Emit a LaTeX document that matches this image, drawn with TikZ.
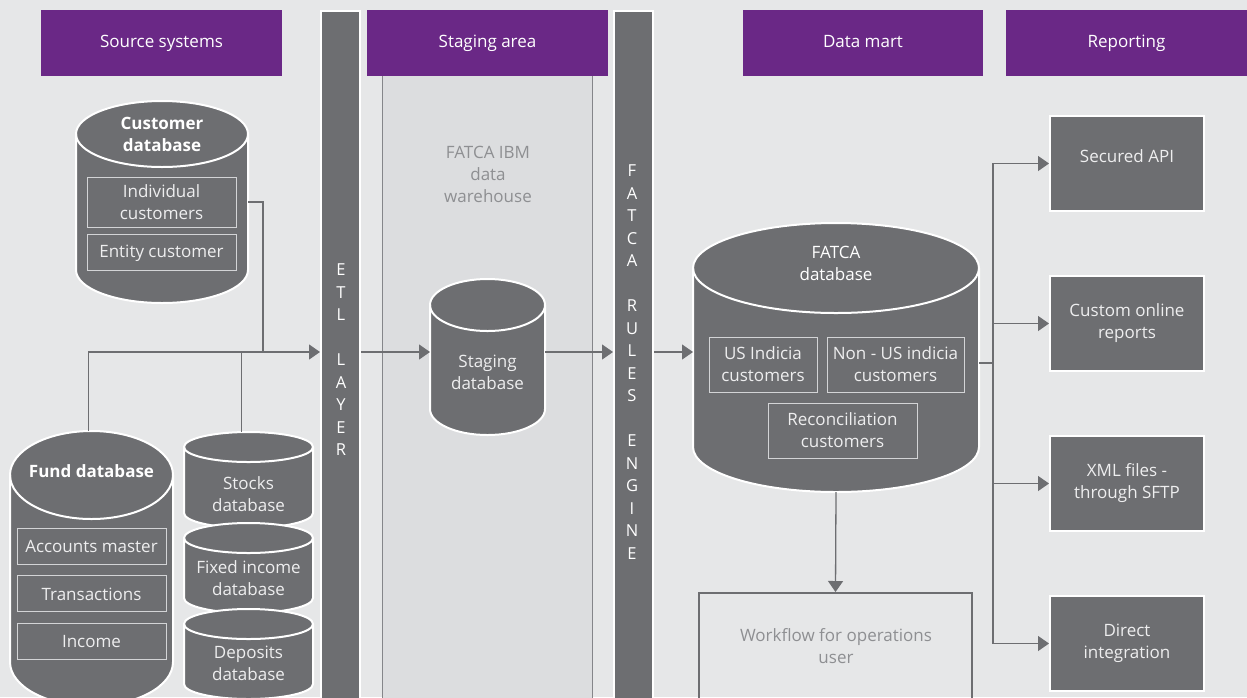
\documentclass[tikz,border=0pt]{standalone}
\usepackage{fontspec}
\setmainfont{Open Sans}
\usepackage{xcolor}
\usetikzlibrary{arrows.meta,positioning,calc}

\definecolor{bggrey}{HTML}{E6E7E8}
\definecolor{zonegrey}{HTML}{DCDDDF}
\definecolor{dbgrey}{HTML}{6D6E71}
\definecolor{headpurple}{HTML}{6A2886}
\definecolor{boxline}{HTML}{D3D4D6}
\definecolor{boxtext}{HTML}{EEEEEF}
\definecolor{softtext}{HTML}{8E8F92}
\definecolor{zoneline}{HTML}{85868A}

% cylinder drawn round an empty node: #1 node name, #2 y radius of the ends
\newcommand{\dbdraw}[2]{%
  \path let \p1=(#1.north west), \p2=(#1.south east), \n1={(\x2-\x1)/2} in
    [dbshape] (\x1,{\y1-#2pt}) -- (\x1,{\y2+#2pt})
      arc[start angle=180, end angle=360, x radius=\n1, y radius=#2pt]
      -- (\x2,{\y1-#2pt})
      arc[start angle=0, end angle=180, x radius=\n1, y radius=#2pt] -- cycle;
  \path let \p1=(#1.north west), \p2=(#1.south east), \n1={(\x2-\x1)/2} in
    [dbedge] (\x1,{\y1-#2pt})
      arc[start angle=180, end angle=360, x radius=\n1, y radius=#2pt];
}

\begin{document}
\begin{tikzpicture}[
    x=1pt, y=1pt,
    font=\fontsize{17}{22}\selectfont,
    header/.style={fill=headpurple, text=white, minimum width=241pt, minimum height=66pt, inner sep=0pt, text height=2.2ex, text depth=.4ex},
    bar/.style={fill=dbgrey, draw=white, line width=2pt, minimum width=39pt, minimum height=700pt, anchor=north},
    barletters/.style={text=white, align=center, inner sep=0pt, font=\fontsize{16.5}{22.5}\selectfont},
    zone/.style={fill=zonegrey, minimum width=209pt, minimum height=625pt, anchor=north, inner sep=0pt},
    zoneedge/.style={draw=zoneline, line width=0.9pt},
    dbspace/.style={inner sep=0pt, outer sep=0pt},
    dbshape/.style={fill=dbgrey, draw=white, line width=2pt},
    dbedge/.style={draw=white, line width=2pt},
    dbtitle/.style={text=white, align=center, font={\fontsize{17}{22}\selectfont\bfseries}},
    dbtext/.style={text=boxtext, align=center},
    inbox/.style={draw=boxline, line width=0.9pt, text=boxtext, align=center, minimum width=149pt, minimum height=36pt, inner sep=0pt},
    outbox/.style={fill=dbgrey, draw=white, line width=2pt, text=boxtext, align=center, minimum width=154pt, minimum height=95pt},
    wfbox/.style={draw=dbgrey, line width=2pt, minimum width=273pt, minimum height=130pt, anchor=north},
    softlabel/.style={text=softtext, align=center},
    link/.style={draw=dbgrey, line width=1.3pt},
    arrow/.style={link, -{Triangle[length=11pt, width=15pt]}},
]
    \useasboundingbox (0,0) rectangle (1247,-697);
    \clip (0,0) rectangle (1247,-697);
    \fill[bggrey] (0,0) rectangle (1247,-697);

    % staging area band
    \node[zone] (zone) at (487.5,-76) {};
    \draw[zoneedge] (zone.north west) -- (zone.south west);
    \draw[zoneedge] (zone.north east) -- (zone.south east);
    \node[softlabel] (whlbl) at (488,-174) {FATCA IBM\\data\\warehouse};

    % column headers
    \node[header] (hsrc) at (161.5,-43) {Source systems};
    \node[header] (hstage) at (487.5,-43) {Staging area};
    \node[header, minimum width=240pt] (hmart) at (863,-43) {Data mart};
    \node[header] (hrep) at (1126.5,-43) {Reporting};

    % vertical layers
    \node[bar] (etl) at (340.5,-10) {};
    \node[barletters] (etllbl) at (341,-360) {E\\T\\L\\[22.5pt]L\\A\\Y\\E\\R};
    \node[bar] (rules) at (633.5,-10) {};
    \node[barletters] (ruleslbl) at (632,-362) {F\\A\\T\\C\\A\\[22.5pt]R\\U\\L\\E\\S\\[22.5pt]E\\N\\G\\I\\N\\E};

    % customer database
    \node[dbspace, minimum width=172pt, minimum height=202pt] (custdb) at (162,-202) {};
    \dbdraw{custdb}{33}
    \node[dbtitle] (custlbl) at ([yshift=-33pt]custdb.north) {Customer\\database};
    \node[inbox, minimum height=50pt] (indiv) at (161.5,-202) {Individual\\customers};
    \node[inbox, below=7pt of indiv] (entity) {Entity customer};

    % fund database
    \node[dbspace, minimum width=163pt, minimum height=275pt] (fund) at (91.5,-568.5) {};
    \dbdraw{fund}{44}
    \node[dbtitle] (fundlbl) at ([yshift=-40pt]fund.north) {Fund database};
    \node[inbox] (accts) at (91.5,-546) {Accounts master};
    \node[inbox, below=11pt of accts] (trans) {Transactions};
    \node[inbox, below=11pt of trans] (income) {Income};

    % stocks, fixed income and deposits
    \node[dbspace, minimum width=129pt, minimum height=96pt] (stocks) at (248.5,-480) {};
    \dbdraw{stocks}{15}
    \node[dbtext] (stockslbl) at (248.5,-494) {Stocks\\database};
    \node[dbspace, minimum width=129pt, minimum height=90pt] (fixed) at (248.5,-568) {};
    \dbdraw{fixed}{15}
    \node[dbtext] (fixedlbl) at (248.5,-578) {Fixed income\\database};
    \node[dbspace, minimum width=129pt, minimum height=90pt] (deposits) at (248.5,-654) {};
    \dbdraw{deposits}{15}
    \node[dbtext] (depositslbl) at (248.5,-663) {Deposits\\database};

    % staging database
    \node[dbspace, minimum width=115pt, minimum height=156pt] (stagedb) at (487.5,-357) {};
    \dbdraw{stagedb}{26}
    \node[dbtext] (stagelbl) at (487.5,-372) {Staging\\database};

    % FATCA database
    \node[dbspace, minimum width=286pt, minimum height=269pt] (fatcadb) at (836,-357.5) {};
    \dbdraw{fatcadb}{45}
    \node[dbtitle, font=\fontsize{17}{22}\selectfont] (fatcalbl) at (836,-263) {FATCA\\database};
    \node[inbox, minimum width=108pt, minimum height=55pt] (usind) at (763,-364.5) {US Indicia\\customers};
    \node[inbox, minimum width=137pt, minimum height=55pt] (nonus) at (895.5,-364.5) {Non - US indicia\\customers};
    \node[inbox, minimum width=149pt, minimum height=55pt] (recon) at (842.5,-430.5) {Reconciliation\\customers};

    % workflow
    \node[wfbox] (wf) at (835.5,-592) {};
    \node[softlabel] (wflbl) at (836,-646) {Workflow for operations\\user};

    % reporting outputs
    \node[outbox, text depth=14pt] (api) at (1127,-163.5) {Secured API};
    \node[outbox, below=63pt of api] (custom) {Custom online\\reports};
    \node[outbox, below=63pt of custom] (xml) {XML files -\\through SFTP};
    \node[outbox, below=63pt of xml] (direct) {Direct\\integration};

    % connectors
    \coordinate (jn) at (263,-352);
    \coordinate (rj) at (993,-363);
    \draw[link] (custdb.east |- indiv.center) -| (jn);
    \draw[arrow] ([xshift=-3pt]fund.north) |- (etl.west |- jn);
    \draw[link] ([xshift=-7pt]stocks.north) -- ([xshift=-7pt]stocks.north |- jn);
    \draw[arrow] (etl.east |- jn) -- (stagedb.west |- jn);
    \draw[arrow] (stagedb.east |- jn) -- (rules.west |- jn);
    \draw[arrow] (rules.east |- jn) -- (fatcadb.west |- jn);
    \draw[arrow] (fatcadb.south) -- (wf.north);
    \draw[link] (fatcadb.east |- rj) -- (rj);
    \draw[arrow] (rj) |- (api.west);
    \draw[arrow] (rj) |- (custom.west);
    \draw[arrow] (rj) |- (xml.west);
    \draw[arrow] (rj) |- (direct.west);
\end{tikzpicture}
\end{document}
